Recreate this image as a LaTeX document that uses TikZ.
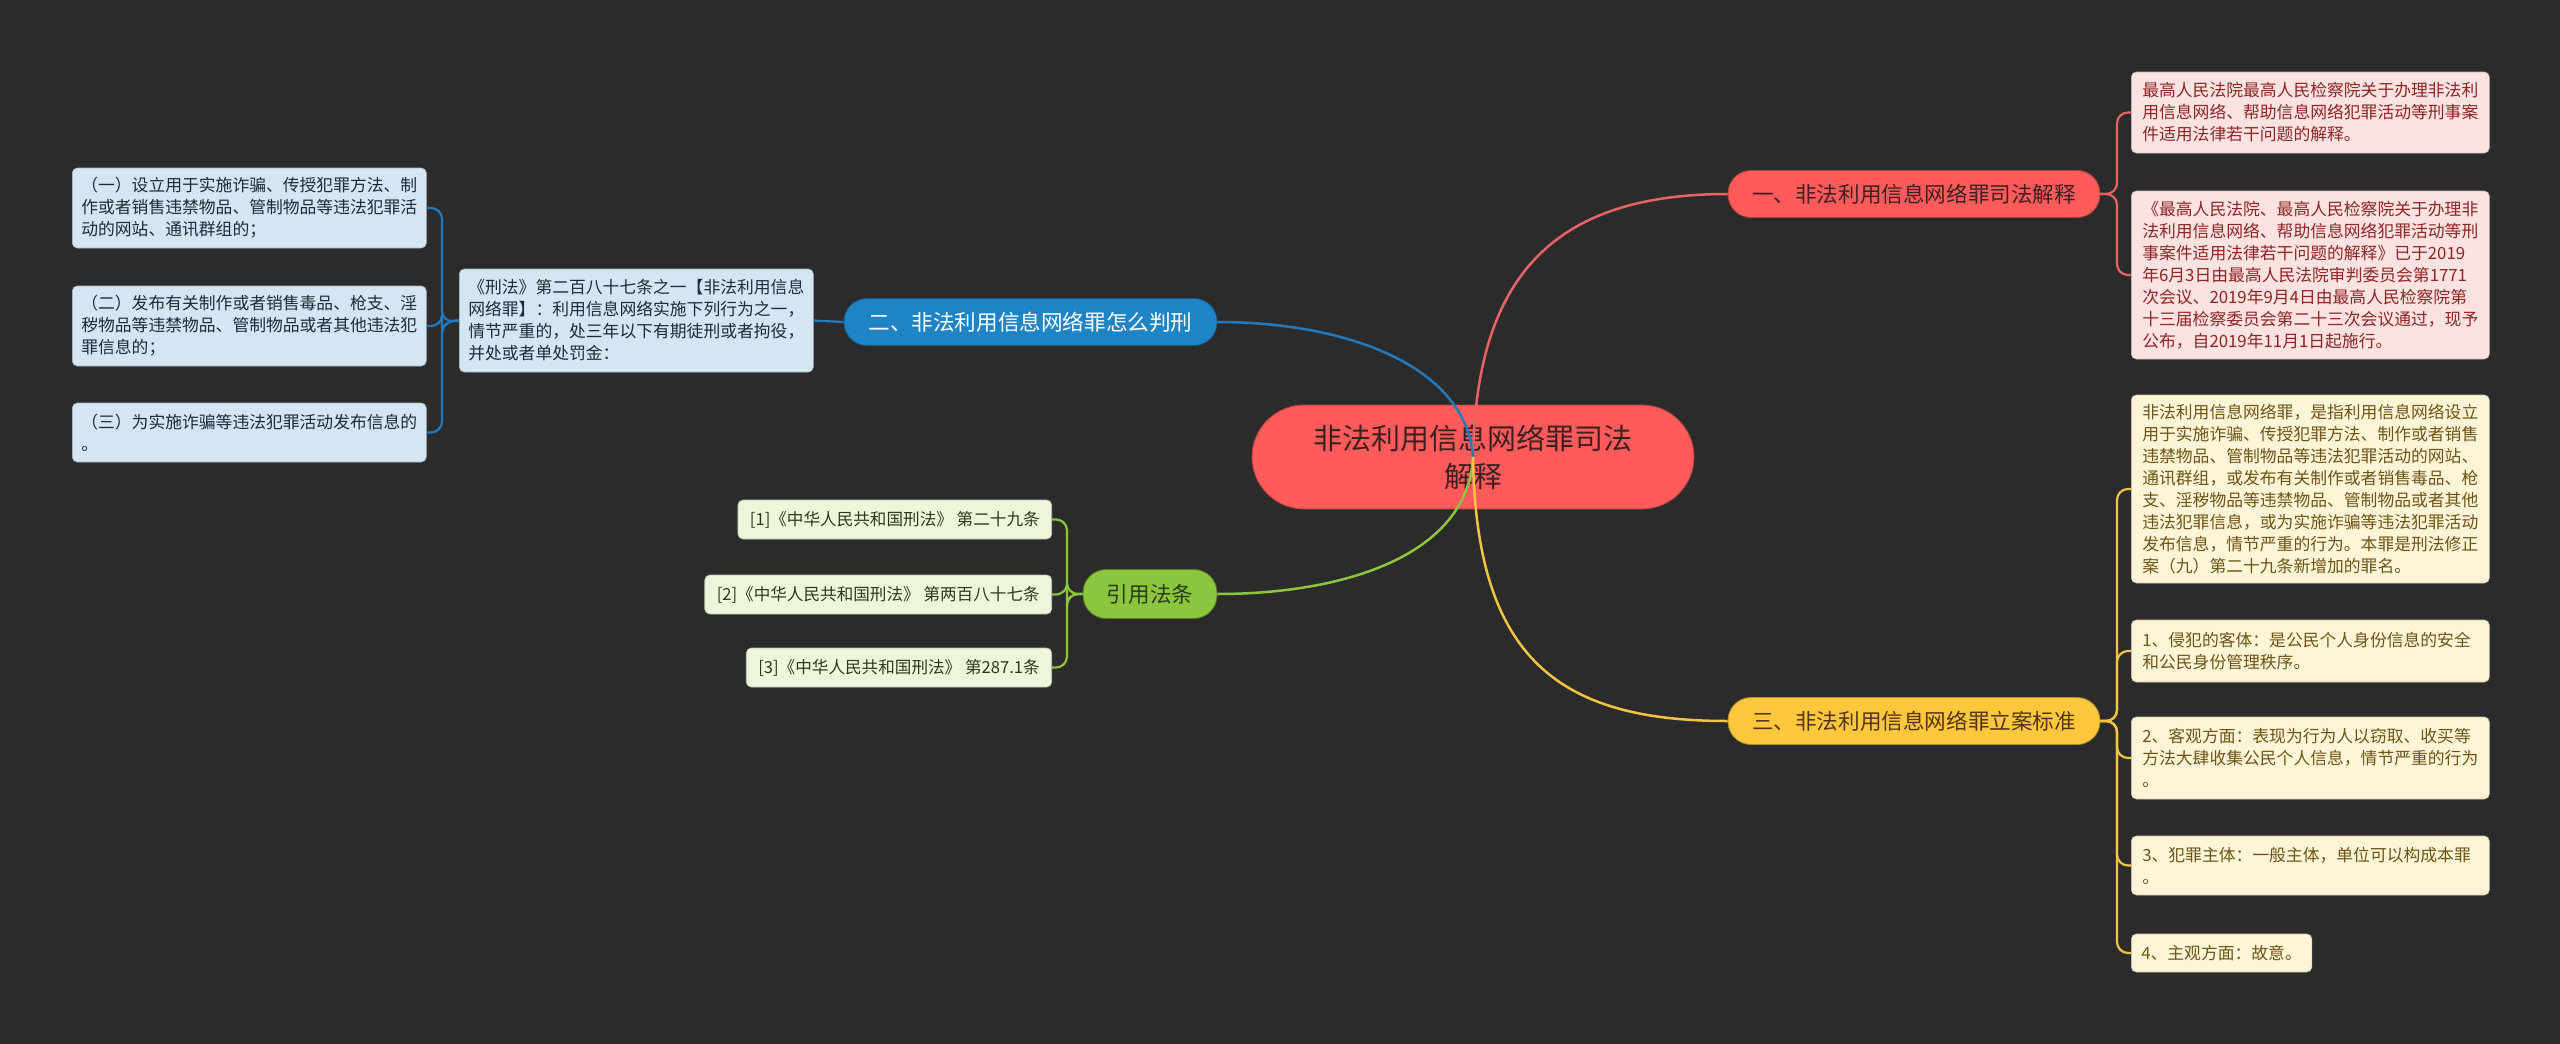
\documentclass[tikz,border=0pt]{standalone}
\usepackage{fontspec}
\setmainfont{Noto Sans CJK SC}
\definecolor{bg}{HTML}{2B2B2B}
\definecolor{cred}{HTML}{FF5B5B}
\definecolor{credtxt}{HTML}{3E2022}
\definecolor{lred}{HTML}{E86464}
\definecolor{lblue}{HTML}{2479BD}
\definecolor{lgreen}{HTML}{8CC63E}
\definecolor{lyellow}{HTML}{F3C443}
\definecolor{pblue}{HTML}{1E84C6}
\definecolor{pgreen}{HTML}{8CC63E}
\definecolor{pyellow}{HTML}{FFC83C}
\definecolor{fred}{HTML}{FDE2E2}
\definecolor{tred}{HTML}{8F2525}
\definecolor{fyel}{HTML}{FEF5D8}
\definecolor{tyel}{HTML}{6E5416}
\definecolor{fblu}{HTML}{D3E6F2}
\definecolor{tblu}{HTML}{1F2B36}
\definecolor{fgrn}{HTML}{EDF5DC}
\definecolor{tgrn}{HTML}{2A3A1C}
\tikzset{
  pill/.style={rounded corners=23pt, minimum height=47pt, inner sep=0pt, font=\fontsize{21.6}{26}\selectfont},
  leafbox/.style={rounded corners=5pt, inner xsep=11pt, inner ysep=0pt, align=left, font=\fontsize{16.8}{22}\selectfont},
  redbox/.style={leafbox, fill=fred, draw=fred!80!black, line width=0.6pt, text=tred},
  yelbox/.style={leafbox, fill=fyel, draw=fyel!80!black, line width=0.6pt, text=tyel},
  blubox/.style={leafbox, inner xsep=9pt, fill=fblu, draw=fblu!80!black, line width=0.6pt, text=tblu},
  grnbox/.style={leafbox, inner xsep=12pt, fill=fgrn, draw=fgrn!80!black, line width=0.6pt, text=tgrn, font=\fontsize{16.6}{22}\selectfont},
  link/.style={line width=2.5pt},
  brk/.style={line width=2.2pt, rounded corners=11pt},
}
\begin{document}
\begin{tikzpicture}[x=1pt,y=-1pt]
\useasboundingbox (0,0) rectangle (2560,1044);
\fill[bg] (0,0) rectangle (2560,1044);

% central node
\node[fill=cred, draw=cred!70!black, line width=0.8pt, rounded corners=52pt, minimum width=442pt, minimum height=104pt, inner sep=0pt, align=center, text=credtxt, font=\fontsize{29}{38}\selectfont] (c) at (1473,457) {非法利用信息网络罪司法\\解释};

% main branches
\node[pill, fill=cred, draw=cred!70!black, line width=0.8pt, minimum width=372pt, text=credtxt] (r1) at (1914,194) {一、非法利用信息网络罪司法解释};
\node[pill, fill=pblue, draw=pblue!70!black, line width=0.8pt, minimum width=373pt, text=white] (b2) at (1030.5,322) {二、非法利用信息网络罪怎么判刑};
\node[pill, fill=pgreen, draw=pgreen!60!black, line width=0.8pt, minimum width=134pt, minimum height=49pt, text=tgrn] (g) at (1150,594) {引用法条};
\node[pill, fill=pyellow, draw=pyellow!70!black, line width=0.8pt, minimum width=372pt, text=credtxt!60!tyel] (y3) at (1914,721) {三、非法利用信息网络罪立案标准};

% right red boxes
\node[redbox, anchor=west, text width=336pt, minimum height=81pt] (rb1) at (2131,112.5) {最高人民法院最高人民检察院关于办理非法利\\用信息网络、帮助信息网络犯罪活动等刑事案\\件适用法律若干问题的解释。};
\node[redbox, anchor=west, text width=336pt, minimum height=168pt] (rb2) at (2131,275) {《最高人民法院、最高人民检察院关于办理非\\法利用信息网络、帮助信息网络犯罪活动等刑\\事案件适用法律若干问题的解释》已于2019\\年6月3日由最高人民法院审判委员会第1771\\次会议、2019年9月4日由最高人民检察院第\\十三届检察委员会第二十三次会议通过，现予\\公布，自2019年11月1日起施行。};

% right yellow boxes
\node[yelbox, anchor=west, text width=336pt, minimum height=188pt] (yb0) at (2131,489) {非法利用信息网络罪，是指利用信息网络设立\\用于实施诈骗、传授犯罪方法、制作或者销售\\违禁物品、管制物品等违法犯罪活动的网站、\\通讯群组，或发布有关制作或者销售毒品、枪\\支、淫秽物品等违禁物品、管制物品或者其他\\违法犯罪信息，或为实施诈骗等违法犯罪活动\\发布信息，情节严重的行为。本罪是刑法修正\\案（九）第二十九条新增加的罪名。};
\node[yelbox, anchor=west, text width=336pt, minimum height=62pt] (yb1) at (2131,651) {1、侵犯的客体：是公民个人身份信息的安全\\和公民身份管理秩序。};
\node[yelbox, anchor=west, text width=336pt, minimum height=82pt] (yb2) at (2131,758) {2、客观方面：表现为行为人以窃取、收买等\\方法大肆收集公民个人信息，情节严重的行为\\。};
\node[yelbox, anchor=west, text width=336pt, minimum height=59pt] (yb3) at (2131,865.5) {3、犯罪主体：一般主体，单位可以构成本罪\\。};
\node[yelbox, anchor=west, inner xsep=10pt, minimum height=38pt] (yb4) at (2131,953) {4、主观方面：故意。};

% left blue boxes
\node[blubox, anchor=west, text width=336pt, minimum height=80pt] (lb1) at (72,208) {（一）设立用于实施诈骗、传授犯罪方法、制\\作或者销售违禁物品、管制物品等违法犯罪活\\动的网站、通讯群组的；};
\node[blubox, anchor=west, text width=336pt, minimum height=80pt] (lb2) at (72,326) {（二）发布有关制作或者销售毒品、枪支、淫\\秽物品等违禁物品、管制物品或者其他违法犯\\罪信息的；};
\node[blubox, anchor=west, text width=336pt, minimum height=59pt] (lb3) at (72,432.5) {（三）为实施诈骗等违法犯罪活动发布信息的\\。};
\node[blubox, anchor=west, text width=336pt, minimum height=103pt] (kf) at (459,320.5) {《刑法》第二百八十七条之一【非法利用信息\\网络罪】：利用信息网络实施下列行为之一，\\情节严重的，处三年以下有期徒刑或者拘役，\\并处或者单处罚金：};

% citations
\node[grnbox, anchor=east, minimum height=39pt] (c1) at (1052,519.5) {[1]《中华人民共和国刑法》 第二十九条};
\node[grnbox, anchor=east, minimum height=39pt] (c2) at (1052,594.5) {[2]《中华人民共和国刑法》 第两百八十七条};
\node[grnbox, anchor=east, minimum height=39pt] (c3) at (1052,667.5) {[3]《中华人民共和国刑法》 第287.1条};

% trunk coordinates
\coordinate (rt) at (2117,194);
\coordinate (yt) at (2117,721);
\coordinate (bt) at (442,322);
\coordinate (gt) at (1067,594);

% brackets
\draw[brk, lred] (r1.east) -- (rt) |- (rb1.west);
\draw[brk, lred] (r1.east) -- (rt) |- (rb2.west);
\foreach \n in {yb0,yb1,yb2,yb3,yb4}{
  \draw[brk, lyellow] (y3.east) -- (yt) |- (\n.west);
}
\draw[brk, lblue] (b2.west) -- (kf.east);
\foreach \n in {lb1,lb2,lb3}{
  \draw[brk, lblue] (kf.west) -- (bt) |- (\n.east);
}
\foreach \n in {c1,c2,c3}{
  \draw[brk, lgreen] (g.west) -- (gt) |- (\n.east);
}

% main connectors
\draw[link, lred] (c.center) .. controls (1476,280) and (1550,194) .. (r1.west);
\draw[link, lblue] (c.center) .. controls (1466,365) and (1345,322) .. (b2.east);
\draw[link, lgreen] (c.center) .. controls (1468,555) and (1345,594) .. (g.east);
\draw[link, lyellow] (c.center) .. controls (1476,660) and (1560,721) .. (y3.west);
\end{tikzpicture}
\end{document}
